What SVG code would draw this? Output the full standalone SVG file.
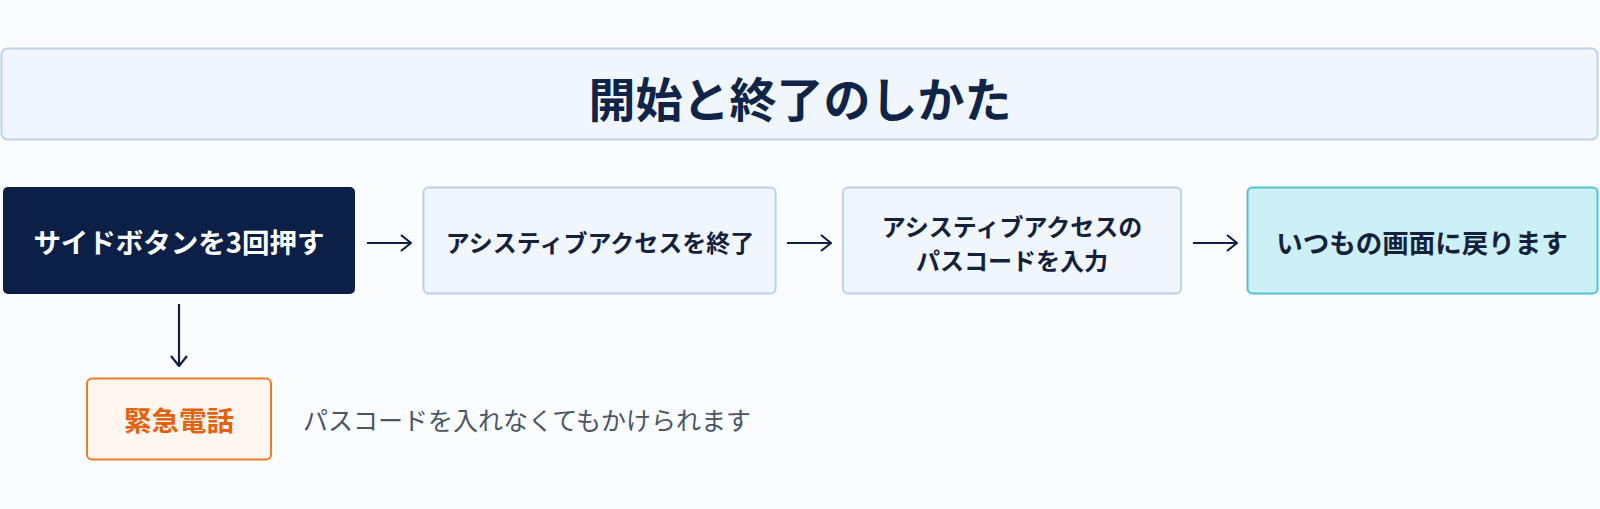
<svg xmlns="http://www.w3.org/2000/svg" width="1600" height="509" viewBox="0 0 1600 509">
<defs>
<style>
text{font-family:"Noto Sans CJK JP","Noto Sans",sans-serif;text-anchor:middle;dominant-baseline:central}
.step{fill:#f1f6fd;stroke:#bcd0e8;stroke-width:2}
.st{fill:#14213d;font-weight:700;font-size:24px}
.conn{stroke:#0f1f45;stroke-width:2.2;fill:none}
</style>
<marker id="ah" viewBox="0 0 12 18" refX="11" refY="9" markerWidth="12" markerHeight="18" markerUnits="userSpaceOnUse" orient="auto">
<path d="M1 1 L11 9 L1 17" fill="none" stroke="#0f1f45" stroke-width="2.2"/>
</marker>
</defs>
<rect width="1600" height="509" fill="#fbfcfd"/>
<g id="title">
<rect x="1.5" y="48.5" width="1596" height="91" rx="6" fill="#f1f6fd" stroke="#bfd2ea" stroke-width="2"/>
<text x="800" y="96" style="font-size:47px;font-weight:700;fill:#0f2447">開始と終了のしかた</text>
</g>
<g id="connectors">
<line class="conn" x1="367" y1="243" x2="411" y2="243" marker-end="url(#ah)"/>
<line class="conn" x1="787" y1="243" x2="831" y2="243" marker-end="url(#ah)"/>
<line class="conn" x1="1193" y1="243" x2="1237" y2="243" marker-end="url(#ah)"/>
<line class="conn" x1="179" y1="304" x2="179" y2="366" marker-end="url(#ah)"/>
</g>
<g id="side-button">
<rect x="3" y="187" width="352" height="107" rx="5" fill="#0b1f47"/>
<text x="179" y="241" style="fill:#ffffff;font-weight:700;font-size:27.5px">サイドボタンを3回押す</text>
</g>
<g id="end-assistive">
<rect class="step" x="423.5" y="187.5" width="352" height="106" rx="5"/>
<text class="st" x="600" y="241">アシスティブアクセスを終了</text>
</g>
<g id="passcode">
<rect class="step" x="843" y="187.5" width="338" height="106" rx="5"/>
<text class="st" x="1012" y="225">アシスティブアクセスの</text>
<text class="st" x="1012" y="259">パスコードを入力</text>
</g>
<g id="home">
<rect x="1247.5" y="187.5" width="350" height="106" rx="5" fill="#cdf0f6" stroke="#4fc2cf" stroke-width="2"/>
<text x="1422" y="241" style="fill:#14213d;font-weight:700;font-size:26.5px">いつもの画面に戻ります</text>
</g>
<g id="emergency">
<rect x="87" y="378.5" width="184" height="81" rx="5" fill="#fff6ef" stroke="#f07a2a" stroke-width="2"/>
<text x="179" y="419" style="fill:#e2620f;font-weight:700;font-size:27.5px">緊急電話</text>
</g>
<g id="note">
<text x="303" y="419" style="text-anchor:start;fill:#4a5566;font-size:25px">パスコードを入れなくてもかけられます</text>
</g>
</svg>
